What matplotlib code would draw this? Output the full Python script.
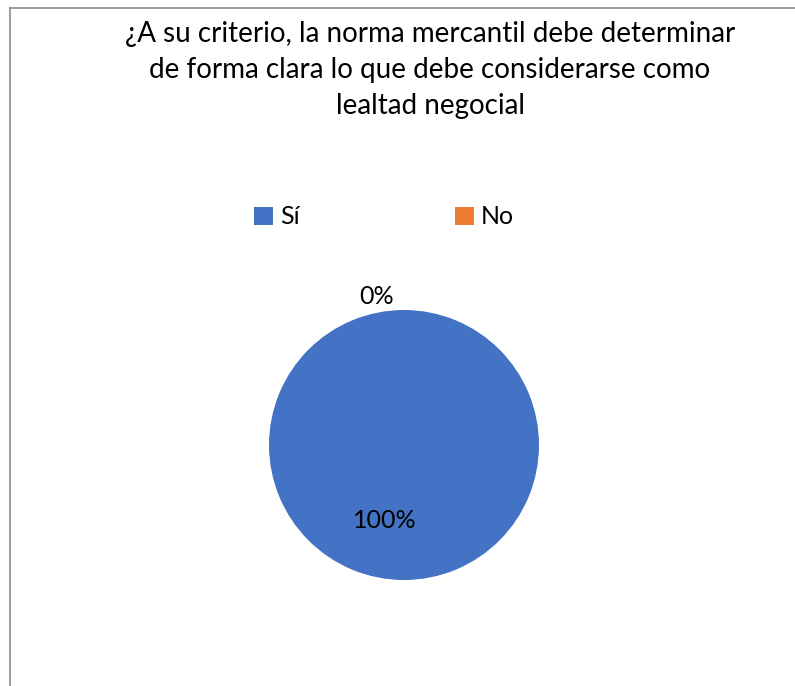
import matplotlib.pyplot as plt
from matplotlib.lines import Line2D
from matplotlib.patches import Patch

categories = ["Sí", "No"]
values = [100, 0]
colors = ["#4472C4", "#ED7D31"]
title = "¿A su criterio, la norma mercantil debe determinar\nde forma clara lo que debe considerarse como\nlealtad negocial"

plt.rcParams['font.family'] = ['Lato', 'DejaVu Sans']

W, H = 795, 686
fig = plt.figure(figsize=(W / 100, H / 100), dpi=100)
fig.patch.set_facecolor("white")

# chart frame (only left and top edges visible in the crop)
fig.add_artist(Line2D([9.5 / W, 9.5 / W], [0, 1 - 8 / H], color="#8c8c8c", lw=1.2))
fig.add_artist(Line2D([9.5 / W, 1], [1 - 8 / H, 1 - 8 / H], color="#8c8c8c", lw=1.2))

fig.text(430 / W, 1 - 70 / H, title, ha="center", va="center", fontsize=20,
         linespacing=1.47, color="#000000")

# pie area
cx, cy, r = 404, 445, 135
ax = fig.add_axes([(cx - r) / W, 1 - (cy + r) / H, 2 * r / W, 2 * r / H])
wedges, texts, autotexts = ax.pie(values, colors=colors, startangle=90, counterclock=False,
                                  autopct=lambda p: f"{p:.0f}%", pctdistance=0.55,
                                  wedgeprops=dict(linewidth=0),
                                  textprops=dict(fontsize=18, color="black"))
ax.set_xlim(-1, 1)
ax.set_ylim(-1, 1)
ax.set_aspect("equal")
autotexts[0].set_position((-0.14, -0.56))
autotexts[1].set_position((-0.20, 1.10))

handles = [Patch(facecolor=c, edgecolor="none") for c in colors]
fig.legend(handles, categories, loc="center", bbox_to_anchor=(384 / W, 1 - 217 / H),
           ncol=2, frameon=False, fontsize=18, handlelength=0.75, handleheight=0.75,
           handletextpad=0.3, columnspacing=6.2)

fig.savefig("out.png", dpi=100, facecolor="white")
